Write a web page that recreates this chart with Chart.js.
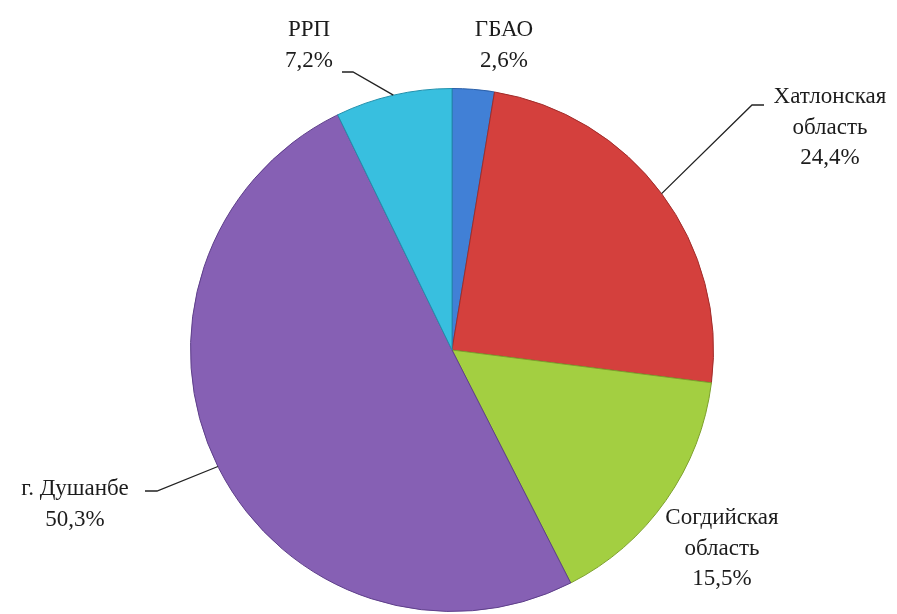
<!DOCTYPE html>
<html>
<head>
<meta charset="utf-8">
<script src="https://cdn.jsdelivr.net/npm/chart.js@4/dist/chart.umd.min.js"></script>
<style>
  html, body { margin: 0; padding: 0; background: #fff; }
  #chart { display: block; }
</style>
</head>
<body>
<canvas id="chart" width="897" height="614"></canvas>
<script>
// data
const regions = ['ГБАО', 'Хатлонская область', 'Согдийская область', 'г. Душанбе', 'РРП'];
const shares = [2.6, 24.4, 15.5, 50.3, 7.2];
const sliceColors = ['#4180d6', '#d4403d', '#a3cf41', '#8660b4', '#38bfdf'];
const rimColors = ['#5a96e4', '#e05a56', '#b6df5a', '#9674c4', '#55cdea'];
const edgeColors = ['#2a5fa8', '#a02c2a', '#7da02c', '#5e3f8a', '#2290ac'];

// text lines for each label, and where they sit (style only)
const labelLines = [
    ['ГБАО', '2,6%'],
    ['Хатлонская', 'область', '24,4%'],
    ['Согдийская', 'область', '15,5%'],
    ['г. Душанбе', '50,3%'],
    ['РРП', '7,2%']
];
const labelBoxes = [
    { x: 504, y: 30, lead: null },
    { x: 830, y: 97, lead: [[764, 105], [752, 105]] },
    { x: 722, y: 518, lead: null },
    { x: 75, y: 489, lead: [[145, 491], [157, 491]] },
    { x: 309, y: 30, lead: [[342, 72], [353, 72]] }
];

// bevel-ish fill: flat colour with a lighter band near the rim
function sliceFill(ctx) {
    const chart = ctx.chart;
    const arc = chart.getDatasetMeta(0).data[ctx.dataIndex];
    if (!arc || !arc.outerRadius) return sliceColors[ctx.dataIndex];
    const g = chart.ctx.createRadialGradient(arc.x, arc.y, 0, arc.x, arc.y, arc.outerRadius);
    g.addColorStop(0, sliceColors[ctx.dataIndex]);
    g.addColorStop(0.9, sliceColors[ctx.dataIndex]);
    g.addColorStop(0.97, rimColors[ctx.dataIndex]);
    g.addColorStop(1, sliceColors[ctx.dataIndex]);
    return g;
}

const calloutPlugin = {
    id: 'callouts',
    afterDraw(chart) {
        const ctx = chart.ctx;
        const arcs = chart.getDatasetMeta(0).data;
        ctx.save();
        ctx.font = '23px "Liberation Serif", "Times New Roman", serif';
        ctx.fillStyle = '#1c1c1c';
        ctx.textAlign = 'center';
        ctx.textBaseline = 'middle';
        labelBoxes.forEach((box, i) => {
            labelLines[i].forEach((line, k) => {
                ctx.fillText(line, box.x, box.y + k * 30.5);
            });
            if (box.lead) {
                const a = arcs[i];
                const mid = (a.startAngle + a.endAngle) / 2;
                const px = a.x + Math.cos(mid) * a.outerRadius;
                const py = a.y + Math.sin(mid) * a.outerRadius;
                ctx.strokeStyle = '#222';
                ctx.lineWidth = 1.3;
                ctx.beginPath();
                ctx.moveTo(box.lead[0][0], box.lead[0][1]);
                ctx.lineTo(box.lead[1][0], box.lead[1][1]);
                ctx.lineTo(px, py);
                ctx.stroke();
            }
        });
        ctx.restore();
    }
};

new Chart(document.getElementById('chart').getContext('2d'), {
    type: 'pie',
    data: {
        labels: regions,
        datasets: [{
            data: shares,
            backgroundColor: sliceFill,
            borderColor: edgeColors,
            borderWidth: 1
        }]
    },
    options: {
        responsive: false,
        animation: false,
        layout: { padding: { top: 88, bottom: 2, left: 190, right: 183 } },
        plugins: {
            legend: { display: false },
            tooltip: { enabled: false }
        }
    },
    plugins: [calloutPlugin]
});
</script>
</body>
</html>
